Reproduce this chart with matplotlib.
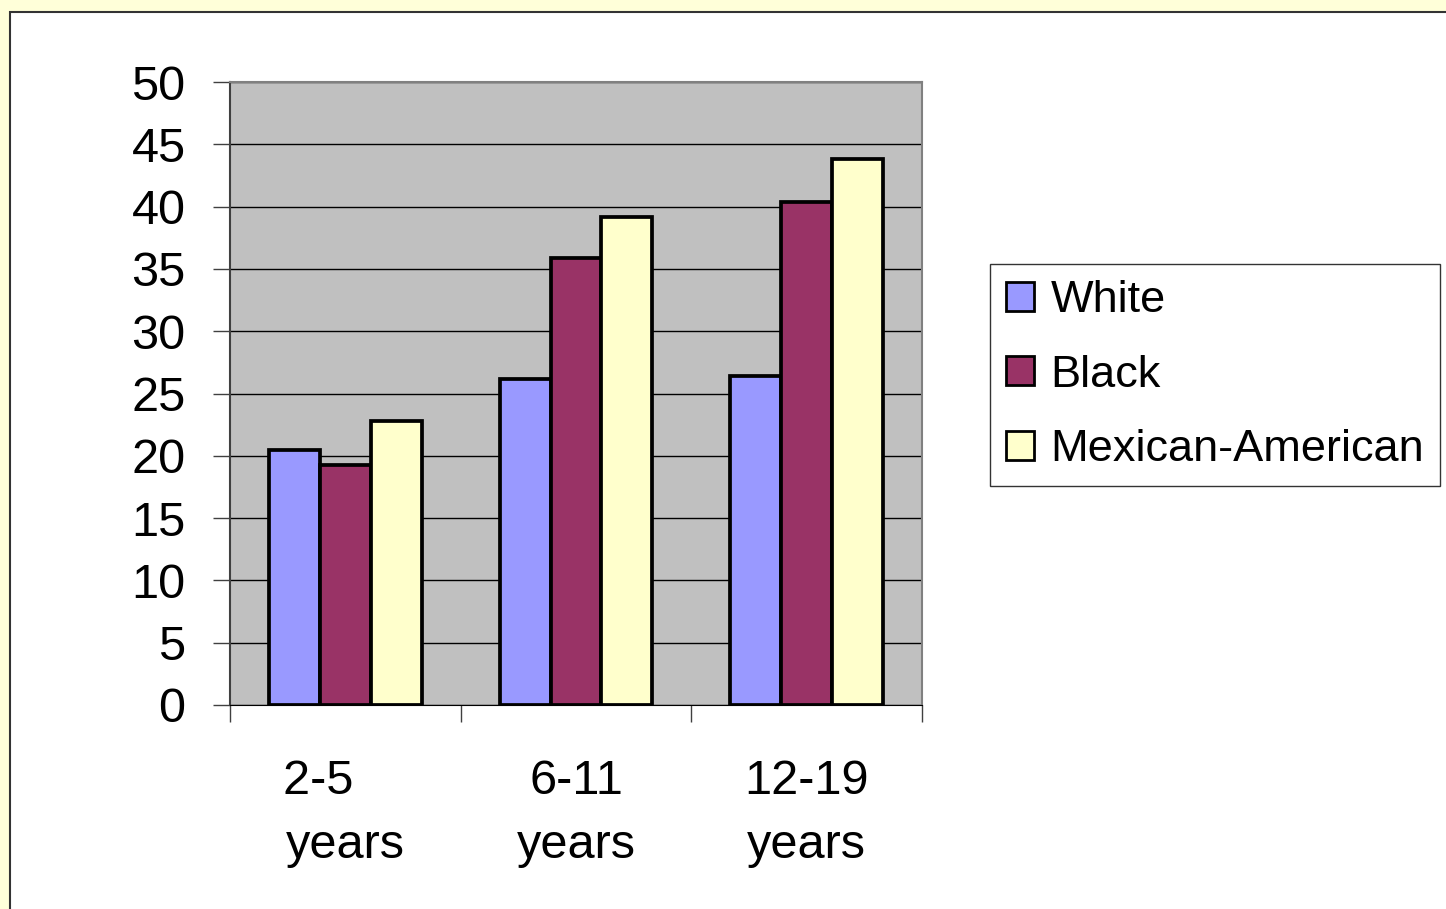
import numpy as np
import matplotlib.pyplot as plt
from matplotlib.patches import Rectangle

plt.rcParams['font.family'] = ['Liberation Sans', 'DejaVu Sans']

categories = ['2-5    \nyears', '6-11\nyears', '12-19\nyears']
series = ['White', 'Black', 'Mexican-American']
white = [20.5, 26.2, 26.4]
black = [19.3, 35.9, 40.4]
mexican = [22.8, 39.2, 43.8]
colors = ['#9999FF', '#993366', '#FFFFCC']

fig = plt.figure(figsize=(14.46, 9.09), dpi=100)
fig.patch.set_facecolor('#FFFFD9')
# white panel with dark border, running off the right and bottom edges
fig.patches.append(Rectangle((10 / 1446, -0.05), 1.1, 0.05 + (909 - 12) / 909,
                             transform=fig.transFigure, facecolor='white',
                             edgecolor='#333333', linewidth=1.5, zorder=-5))

ax = fig.add_axes([230 / 1446, 204 / 909, 692 / 1446, 623 / 909])
ax.set_facecolor('#C0C0C0')

x = np.arange(len(categories))
w = 0.221
for i, (vals, name) in enumerate(zip([white, black, mexican], series)):
    ax.bar(x + (i - 1) * w, vals, w, color=colors[i], edgecolor='black',
           linewidth=2.7, label=name, zorder=3)

ax.set_xlim(-0.5, 2.5)
ax.set_ylim(0, 50)
ax.set_yticks(np.arange(0, 51, 5))
ax.yaxis.grid(True, color='black', linewidth=1, zorder=1)
ax.set_axisbelow(True)

ax.set_xticks(np.arange(-0.5, 3, 1))
ax.set_xticklabels([])
ax.set_xticks(x, minor=True)
ax.set_xticklabels(categories, minor=True, fontsize=35, linespacing=1.55)
ax.tick_params(axis='x', which='major', length=12, width=1, color='#404040')
ax.tick_params(axis='x', which='minor', length=0, pad=39)
ax.tick_params(axis='y', length=12, width=1, color='#404040', labelsize=35, pad=20)

ax.spines['left'].set_color('#404040')
ax.spines['left'].set_linewidth(1.5)
ax.spines['bottom'].set_color('black')
ax.spines['top'].set_color('#808080')
ax.spines['right'].set_color('#808080')
ax.spines['top'].set_linewidth(1.5)
ax.spines['right'].set_linewidth(1.5)

leg = fig.legend(loc='upper left', bbox_to_anchor=(990 / 1446, 1 - 264 / 909),
                 fontsize=32.5, frameon=True, fancybox=False, handlelength=0.62,
                 handleheight=0.62, handletextpad=0.36, labelspacing=0.74,
                 borderpad=0.36, borderaxespad=0)
leg.get_frame().set_edgecolor('black')
leg.get_frame().set_linewidth(1)
for h in leg.legend_handles:
    h.set_linewidth(2)

fig.savefig('out.png', dpi=100, facecolor=fig.get_facecolor())
